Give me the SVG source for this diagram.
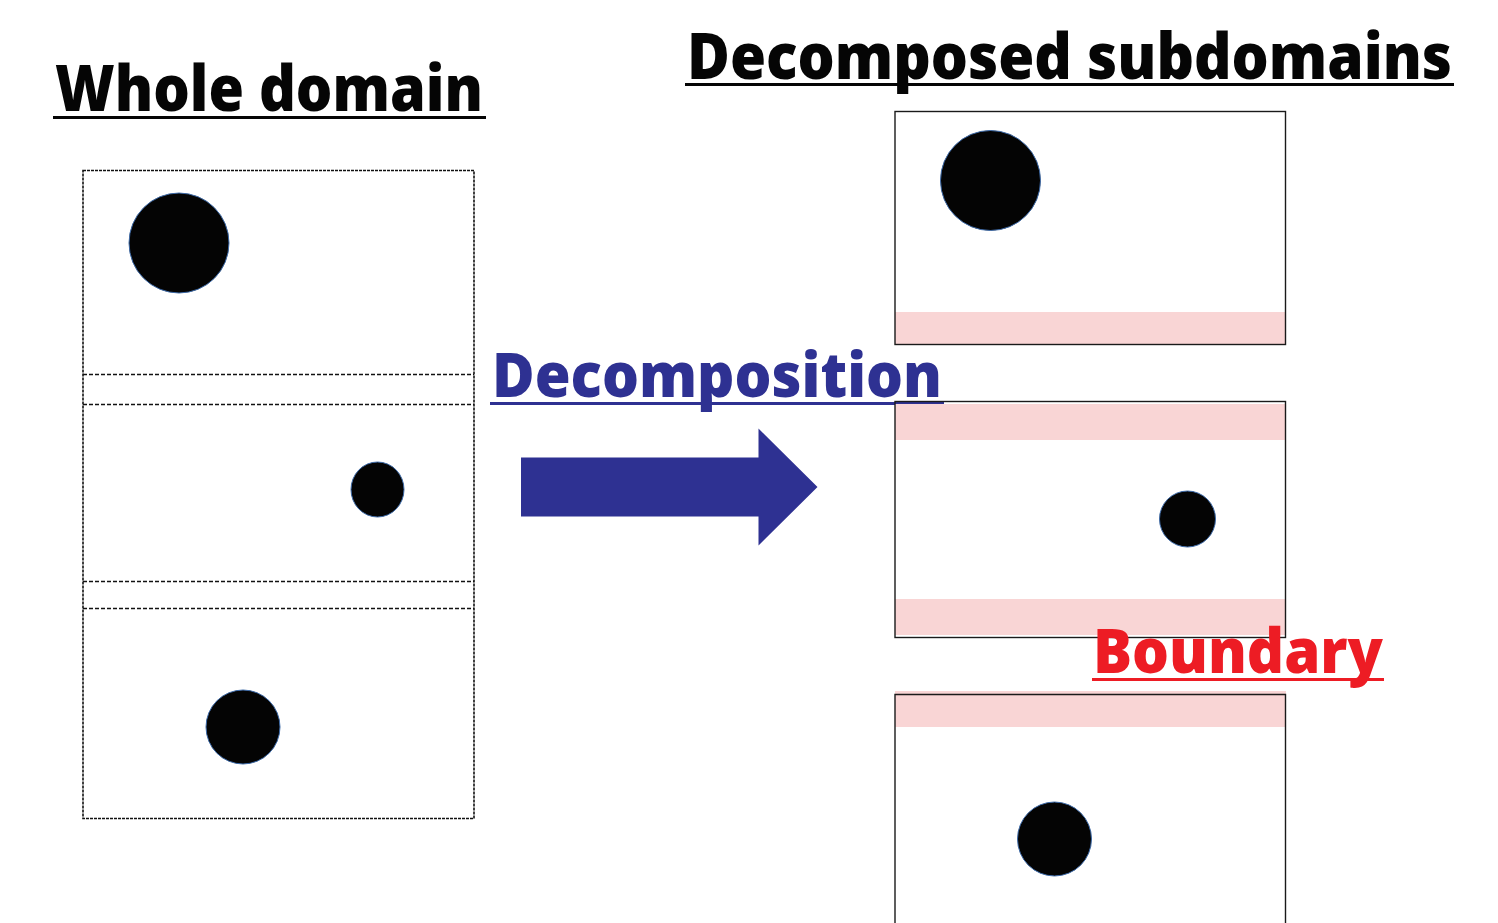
<svg xmlns="http://www.w3.org/2000/svg" width="1498" height="923" viewBox="0 0 1498 923">
  <style>
    .title { font-family: "Open Sans", "Noto Sans", "Liberation Sans", sans-serif; font-weight: 800; }
    .frame { fill: none; stroke: #111111; stroke-width: 1.6; }
    .split { stroke: #111111; stroke-width: 1.3; stroke-dasharray: 4 2; }
    .particle { fill: #040404; stroke: #3d6aa8; stroke-width: 1; }
    .halo { fill: #f9d5d5; }
    .box { fill: none; stroke: #1a1a1a; stroke-width: 1.4; }
  </style>

  <rect width="1498" height="923" fill="#ffffff"/>

  <!-- Left: whole domain -->
  <g id="whole-domain">
    <text class="title" x="55" y="111" font-size="64" fill="#050505" textLength="428" lengthAdjust="spacingAndGlyphs">Whole domain</text>
    <line x1="53" y1="117.5" x2="486" y2="117.5" stroke="#050505" stroke-width="3"/>
    <rect class="frame" x="83" y="170.5" width="391" height="648" stroke-dasharray="3 1"/>
    <line class="split" x1="83" y1="374.5" x2="474" y2="374.5"/>
    <line class="split" x1="83" y1="404.5" x2="474" y2="404.5"/>
    <line class="split" x1="83" y1="581.5" x2="474" y2="581.5"/>
    <line class="split" x1="83" y1="608.5" x2="474" y2="608.5"/>
    <circle class="particle" cx="179" cy="243" r="50"/>
    <ellipse class="particle" cx="377.5" cy="489.5" rx="26.5" ry="27.5"/>
    <circle class="particle" cx="243" cy="727" r="37"/>
  </g>

  <!-- Middle: decomposition label -->
  <g id="decomposition">
    <text class="title" x="492" y="397" font-size="62" fill="#2e3192" textLength="450" lengthAdjust="spacingAndGlyphs">Decomposition</text>
    <line x1="490" y1="403.5" x2="944" y2="403.5" stroke="#2e3192" stroke-width="3"/>
  </g>

  <g id="connectors">
    <polygon points="521,457.5 758.5,457.5 758.5,428.5 817.5,487 758.5,545.5 758.5,516.5 521,516.5" fill="#2e3192"/>
  </g>

  <!-- Right: decomposed subdomains -->
  <g id="decomposed-subdomains">
    <text class="title" x="687" y="79" font-size="63" fill="#050505" textLength="765" lengthAdjust="spacingAndGlyphs">Decomposed subdomains</text>
    <line x1="685" y1="84.5" x2="1454" y2="84.5" stroke="#050505" stroke-width="3"/>
  </g>

  <g id="subdomain-1">
    <rect class="halo" x="895" y="312" width="391" height="33"/>
    <rect class="box" x="895" y="111.5" width="390.5" height="233"/>
    <circle class="particle" cx="990.5" cy="180.5" r="50"/>
  </g>

  <g id="subdomain-2">
    <rect class="halo" x="895" y="404" width="390" height="36"/>
    <rect class="halo" x="895" y="599" width="390" height="36"/>
    <rect class="box" x="895" y="401.5" width="390.5" height="236"/>
    <circle class="particle" cx="1187.5" cy="519" r="28"/>
  </g>

  <g id="subdomain-3">
    <rect class="halo" x="895" y="691" width="391" height="36"/>
    <polyline class="box" points="895,930 895,694.5 1285.5,694.5 1285.5,930"/>
    <circle class="particle" cx="1054.5" cy="839" r="37"/>
  </g>

  <g id="boundary-label">
    <text class="title" x="1093" y="673" font-size="62" fill="#ed1c24" textLength="290" lengthAdjust="spacingAndGlyphs">Boundary</text>
    <line x1="1092" y1="679.5" x2="1384" y2="679.5" stroke="#ed1c24" stroke-width="3"/>
  </g>
</svg>
